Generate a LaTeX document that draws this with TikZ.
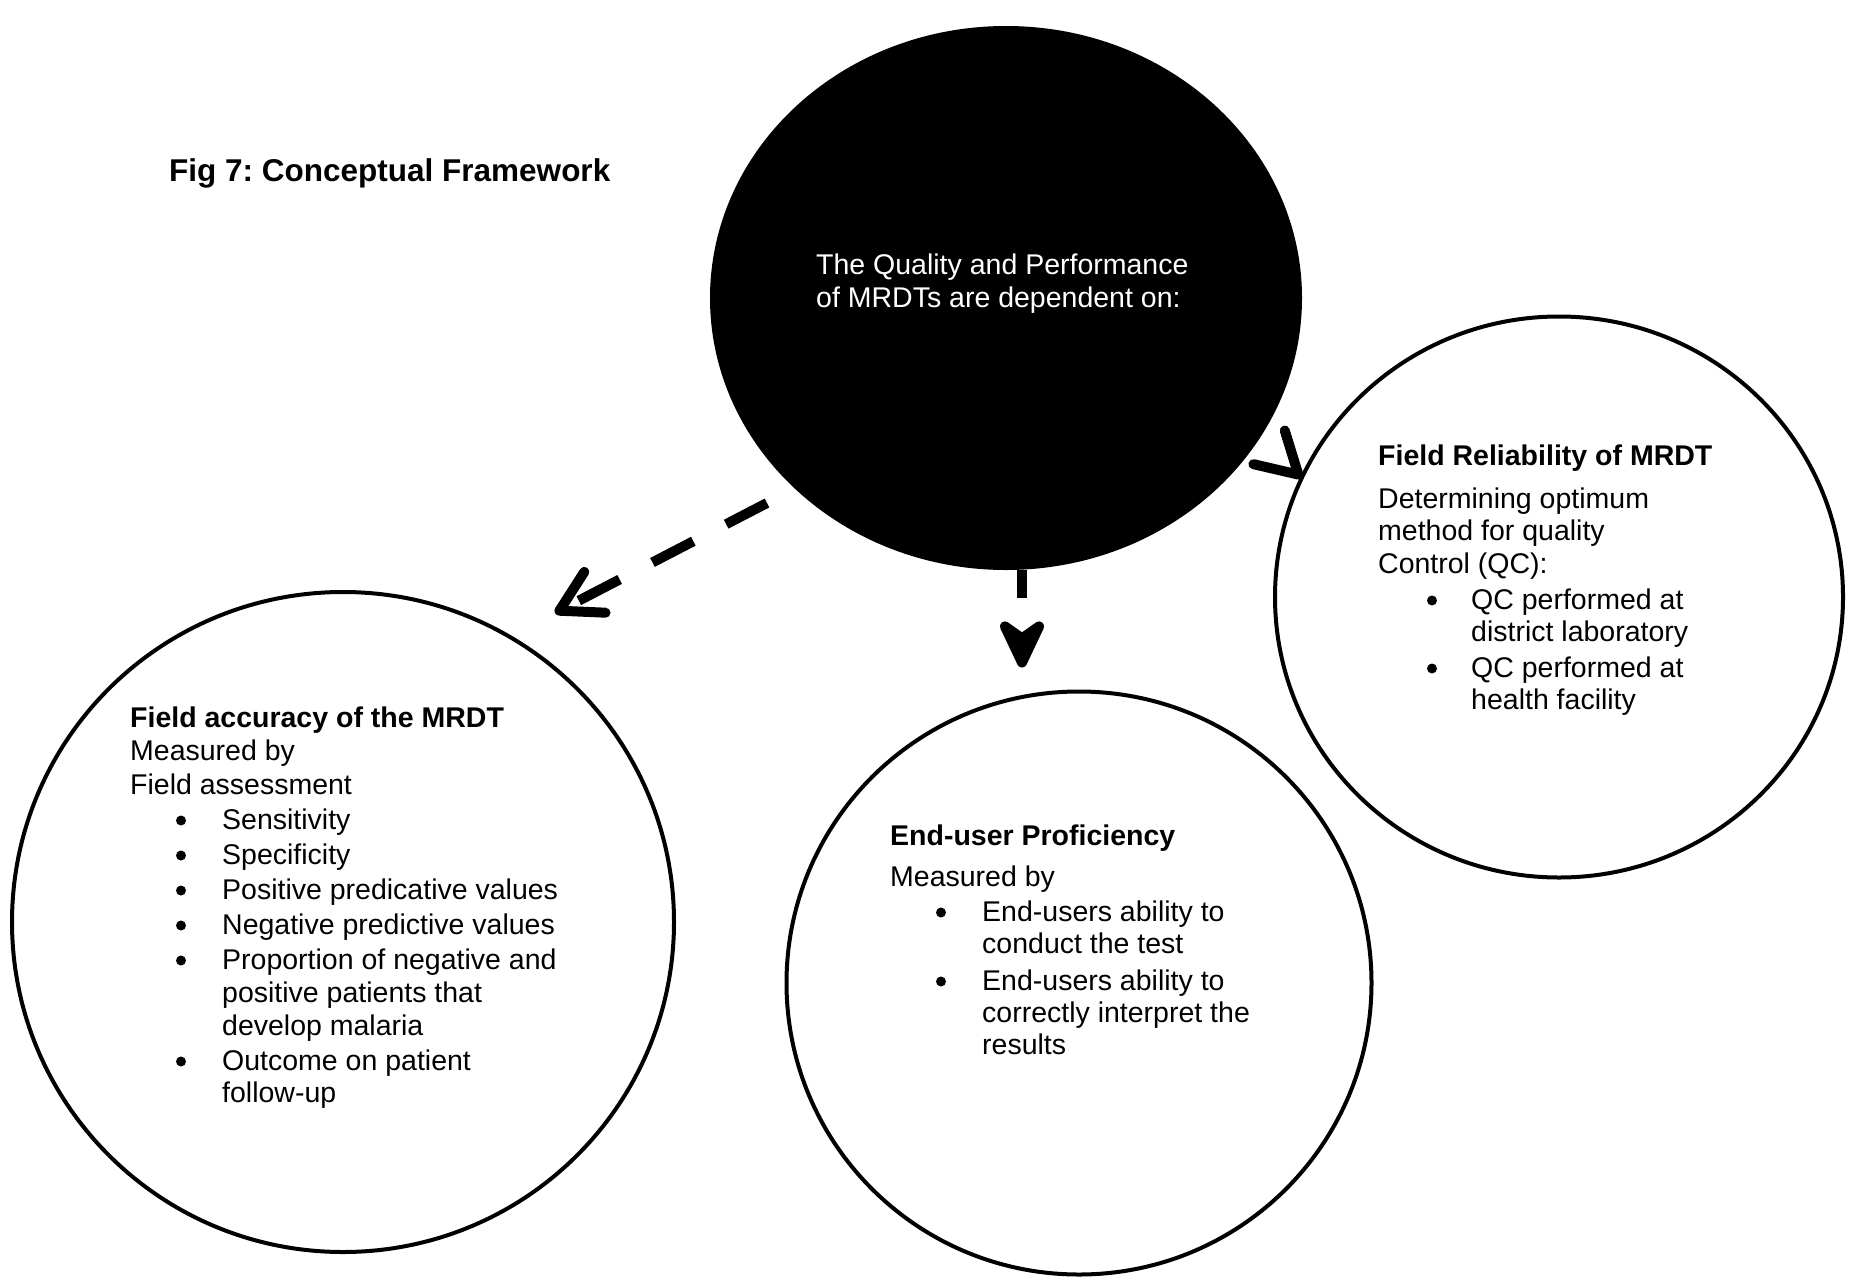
\documentclass[tikz,border=0pt]{standalone}
\usepackage{fontspec}
\setmainfont{Liberation Sans}
\usetikzlibrary{shapes.geometric,arrows.meta,calc}
\newcommand{\tl}[5][]{\node[body,#1] (#2) at (#3,#4) {#5};}
\newcommand{\bl}[3]{\node[bul] (#1) at (#2,#3-8.5) {};}
\frenchspacing
\begin{document}
\begin{tikzpicture}[x=1pt,y=-1pt,
  body/.style={font=\fontsize{28.5}{33}\selectfont, inner sep=0pt, anchor=base west},
  headtxt/.style={font=\fontsize{28.5}{33}\selectfont\bfseries},
  bul/.style={circle, fill=black, inner sep=0pt, minimum size=10pt},
  ring/.style={draw, ellipse, line width=4pt, inner sep=0pt},
  conn/.style={line width=10pt},
  barb/.style={-{Straight Barb[length=40pt,width=46pt,round]}}
]
\useasboundingbox (0,0) rectangle (1855,1277);
\fill[white] (0,0) rectangle (1855,1277);

% title
\node[body, font=\fontsize{31.5}{36}\selectfont\bfseries] (title) at (169,181) {Fig 7: Conceptual Framework};

% shapes
\node[fill=black, ellipse, minimum width=592pt, minimum height=544pt, inner sep=0pt] (blk) at (1006,298) {};
\node[ring, minimum width=662pt, minimum height=660pt] (lc) at (343,922) {};
\node[ring, minimum width=585pt, minimum height=583pt] (mc) at (1079,983) {};
\node[ring, minimum width=568pt, minimum height=561pt] (rc) at (1559,597) {};

% connectors
\coordinate (ls) at ($(blk.center)+(-239,205)$);
\coordinate (lt) at ($(lc.center)+(212,-309)$);
\draw[conn, dash pattern=on 46pt off 37pt, barb] (ls) -- (lt);

\coordinate (ms) at ($(blk.south)+(16,0)$);
\coordinate (mt) at ($(mc.north)+(-57,-22)$);
\draw[conn, dash pattern=on 28pt off 90pt, -{Stealth[length=62pt,width=58pt,inset=20pt,round]}] (ms) -- (mt);

\coordinate (rt) at ($(rc.center)+(-257,-119)$);
\coordinate (rs) at ($(rt)+(-88,-82)$);
\draw[conn, dash pattern=on 40pt off 100pt, barb] (rs) -- (rt);

% centre text
\tl[text=white]{c1}{816}{274}{The Quality and Performance}
\tl[text=white]{c2}{816}{307}{of MRDTs are dependent on:}

% left block
\tl[headtxt]{a1}{130}{727}{Field accuracy of the MRDT}
\tl{a2}{130}{760}{Measured by}
\tl{a3}{130}{794}{Field assessment}
\bl{ab1}{181}{829}\tl{a4}{222}{829}{Sensitivity}
\bl{ab2}{181}{864}\tl{a5}{222}{864}{Specificity}
\bl{ab3}{181}{899}\tl{a6}{222}{899}{Positive predicative values}
\bl{ab4}{181}{934}\tl{a7}{222}{934}{Negative predictive values}
\bl{ab5}{181}{969}\tl{a8}{222}{969}{Proportion of negative and}
\tl{a9}{222}{1002}{positive patients that}
\tl{a10}{222}{1035}{develop malaria}
\bl{ab6}{181}{1070}\tl{a11}{222}{1070}{Outcome on patient}
\tl{a12}{222}{1102}{follow-up}

% middle block
\tl[headtxt]{m1}{890}{845}{End-user Proficiency}
\tl{m2}{890}{886}{Measured by}
\bl{mb1}{941}{921}\tl{m3}{982}{921}{End-users ability to}
\tl{m4}{982}{953}{conduct the test}
\bl{mb2}{941}{990}\tl{m5}{982}{990}{End-users ability to}
\tl{m6}{982}{1022}{correctly interpret the}
\tl{m7}{982}{1054}{results}

% right block
\tl[headtxt]{r1}{1378}{465}{Field Reliability of MRDT}
\tl{r2}{1378}{508}{Determining optimum}
\tl{r3}{1378}{540}{method for quality}
\tl{r4}{1378}{573}{Control (QC):}
\bl{rb1}{1432}{609}\tl{r5}{1471}{609}{QC performed at}
\tl{r6}{1471}{641}{district laboratory}
\bl{rb2}{1432}{677}\tl{r7}{1471}{677}{QC performed at}
\tl{r8}{1471}{709}{health facility}
\end{tikzpicture}
\end{document}
